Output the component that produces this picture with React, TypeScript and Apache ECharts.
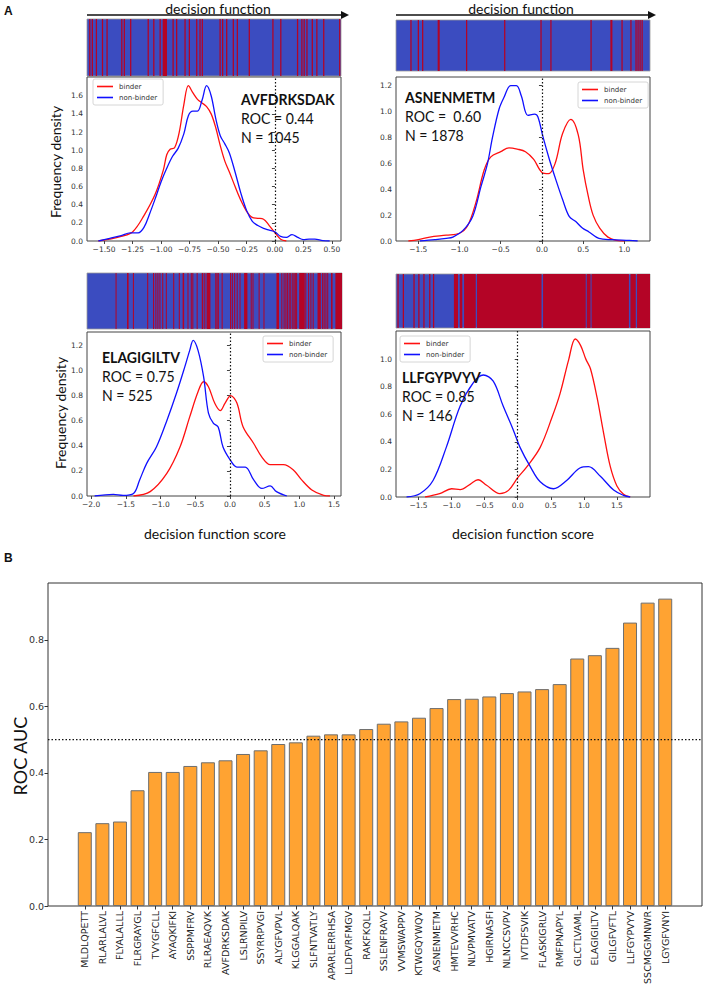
import React, { useEffect, useRef } from "react";
import * as echarts from "echarts";

// ---------- colours ----------
const STRIPE_BLUE = "#3b4cc0";
const STRIPE_RED = "#b40426";
const LINE_RED = "#ff1010";
const LINE_BLUE = "#1010ff";
const BAR_FILL = "#ffa332";

// ---------- panel A : density curves ----------
const p1Binder = [[-1.55,0],[-1.45,0.02],[-1.35,0.05],[-1.25,0.1],[-1.15,0.28],[-1.05,0.52],[-0.98,0.78],[-0.95,0.95],[-0.92,1.01],[-0.88,1.03],[-0.84,1.2],[-0.8,1.5],[-0.76,1.71],[-0.72,1.63],[-0.68,1.56],[-0.64,1.52],[-0.6,1.48],[-0.56,1.4],[-0.52,1.25],[-0.48,1.05],[-0.44,0.88],[-0.4,0.76],[-0.35,0.6],[-0.3,0.45],[-0.25,0.33],[-0.2,0.26],[-0.15,0.25],[-0.1,0.24],[-0.05,0.17],[0,0.09],[0.05,0.02],[0.1,0]];
const p1NonBinder = [[-1.55,0],[-1.45,0.03],[-1.35,0.06],[-1.27,0.09],[-1.2,0.09],[-1.15,0.15],[-1.1,0.3],[-1.05,0.47],[-1.0,0.65],[-0.95,0.8],[-0.9,0.93],[-0.85,1.02],[-0.8,1.18],[-0.76,1.38],[-0.72,1.43],[-0.68,1.43],[-0.64,1.55],[-0.6,1.71],[-0.56,1.6],[-0.52,1.35],[-0.48,1.16],[-0.44,1.07],[-0.4,0.97],[-0.35,0.76],[-0.3,0.53],[-0.25,0.34],[-0.2,0.22],[-0.15,0.17],[-0.1,0.14],[-0.05,0.12],[0,0.1],[0.05,0.05],[0.1,0.04],[0.15,0.07],[0.2,0.04],[0.25,0.015],[0.3,0.02],[0.35,0.02],[0.42,0.005],[0.48,0]];

const p2Binder = [[-1.62,0],[-1.5,0.01],[-1.36,0.03],[-1.16,0.045],[-1.0,0.06],[-0.9,0.12],[-0.8,0.3],[-0.7,0.55],[-0.62,0.65],[-0.5,0.69],[-0.4,0.72],[-0.3,0.71],[-0.2,0.69],[-0.1,0.63],[0.0,0.53],[0.08,0.52],[0.16,0.6],[0.25,0.83],[0.35,0.94],[0.44,0.82],[0.5,0.55],[0.56,0.35],[0.62,0.2],[0.7,0.1],[0.8,0.03],[0.9,0.005],[1.0,0]];
const p2NonBinder = [[-1.48,0],[-1.3,0.01],[-1.16,0.02],[-1.08,0.03],[-0.96,0.08],[-0.84,0.19],[-0.74,0.42],[-0.66,0.6],[-0.6,0.8],[-0.52,1.02],[-0.46,1.11],[-0.38,1.2],[-0.31,1.2],[-0.25,1.12],[-0.17,0.97],[-0.09,0.98],[-0.05,0.96],[0.01,0.81],[0.09,0.63],[0.17,0.47],[0.25,0.32],[0.33,0.19],[0.41,0.15],[0.49,0.1],[0.57,0.07],[0.69,0.02],[0.85,0.01],[1.06,0.005],[1.16,0]];

const p3Binder = [[-1.39,0],[-1.15,0.035],[-0.91,0.18],[-0.72,0.39],[-0.58,0.63],[-0.46,0.83],[-0.38,0.91],[-0.31,0.87],[-0.22,0.74],[-0.14,0.68],[-0.07,0.74],[0.01,0.8],[0.1,0.74],[0.19,0.55],[0.34,0.42],[0.46,0.31],[0.58,0.25],[0.77,0.25],[0.91,0.21],[1.03,0.13],[1.18,0.048],[1.35,0.005],[1.44,0]];
const p3NonBinder = [[-1.95,0],[-1.68,0.013],[-1.54,0.005],[-1.39,0.02],[-1.3,0.13],[-1.2,0.26],[-1.06,0.39],[-0.91,0.6],[-0.77,0.82],[-0.65,1.03],[-0.58,1.16],[-0.53,1.24],[-0.46,1.16],[-0.38,0.95],[-0.31,0.66],[-0.24,0.58],[-0.17,0.55],[-0.1,0.39],[0,0.29],[0.1,0.23],[0.22,0.23],[0.34,0.13],[0.46,0.06],[0.58,0.08],[0.67,0.035],[0.82,0]];

const p4Binder = [[-1.4,0],[-1.18,0.024],[-1.0,0.06],[-0.87,0.053],[-0.72,0.092],[-0.6,0.125],[-0.47,0.085],[-0.27,0.024],[-0.14,0.048],[0,0.14],[0.14,0.22],[0.34,0.36],[0.52,0.58],[0.64,0.75],[0.77,0.995],[0.87,1.146],[0.95,1.1],[1.03,1.0],[1.1,0.93],[1.2,0.72],[1.3,0.46],[1.4,0.22],[1.5,0.08],[1.6,0.02],[1.7,0]];
const p4NonBinder = [[-1.68,0],[-1.48,0.024],[-1.28,0.12],[-1.08,0.36],[-0.87,0.66],[-0.67,0.83],[-0.52,0.885],[-0.37,0.84],[-0.22,0.66],[-0.07,0.49],[0.035,0.36],[0.19,0.22],[0.34,0.11],[0.54,0.06],[0.74,0.12],[0.94,0.21],[1.07,0.22],[1.25,0.15],[1.45,0.05],[1.6,0.012],[1.7,0]];

// ---------- panel A : sorted-sample stripes (fractions of the stripe width) ----------
const stripe1Lines = [0.011,0.021,0.037,0.061,0.079,0.137,0.147,0.172,0.241,0.263,0.288,0.339,0.353,0.386,0.403,0.432,0.445,0.454,0.524,0.534,0.550,0.576,0.592,0.639,0.732,0.763,0.829,0.846,0.855,0.866,0.887,0.905,0.932,0.995];
const stripe1Bands = [[0.298,0.315]];
const stripe2Lines = [0.059,0.088,0.105,0.278,0.428,0.571,0.610,0.768,0.890,0.925,0.945,0.953,0.961,0.969];
const stripe2Bands = [[0.164,0.172],[0.844,0.852]];
const stripe3Lines = [0.114,0.182,0.238,0.261,0.270,0.278,0.286,0.297,0.311,0.340,0.362,0.396,0.409,0.415,0.432,0.462,0.530,0.563,0.570,0.579,0.589,0.600,0.644,0.651,0.675,0.694,0.764,0.773,0.780,0.786,0.793,0.799,0.858,0.869,0.878,0.887,0.924,0.930,0.937,0.944,0.505,0.510,0.515,0.807,0.812,0.817,0.822];
const stripe3Bands = [[0.157,0.163],[0.375,0.381],[0.450,0.456],[0.469,0.484],[0.616,0.629],[0.743,0.753],[0.832,0.854],[0.904,0.917],[0.957,0.963],[0.974,1.0]];
const stripe4Lines = [0.008,0.029,0.071,0.090,0.110,0.133,0.148];
const stripe4Bands = [[0.228,0.244],[0.251,0.261],[0.268,0.314],[0.319,0.573],[0.579,0.747],[0.751,0.766],[0.770,0.917],[0.923,0.944],[0.949,1.0]];

// ---------- panel A : ticks ----------
const p1XTicks = [-1.5,-1.25,-1.0,-0.75,-0.5,-0.25,0,0.25,0.5];
const p1YTicks = [0,0.2,0.4,0.6,0.8,1.0,1.2,1.4,1.6];
const p2XTicks = [-1.5,-1.0,-0.5,0,0.5,1.0];
const p2YTicks = [0,0.2,0.4,0.6,0.8,1.0,1.2];
const p3XTicks = [-2.0,-1.5,-1.0,-0.5,0,0.5,1.0,1.5];
const p3YTicks = [0,0.2,0.4,0.6,0.8,1.0,1.2];
const p4XTicks = [-1.5,-1.0,-0.5,0,0.5,1.0,1.5];
const p4YTicks = [0,0.2,0.4,0.6,0.8,1.0];

const peptideNames = ["AVFDRKSDAK","ASNENMETM","ELAGIGILTV","LLFGYPVYV"];
const rocTexts = ["ROC = 0.44","ROC =  0.60","ROC = 0.75","ROC = 0.85"];
const nTexts = ["N = 1045","N = 1878","N = 525","N = 146"];

// ---------- panel B : bar chart ----------
const barPeptides = ["MLDLQPETT","RLARLALVL","FLYALALLL","FLRGRAYGL","TVYGFCLL","AYAQKIFKI","SSPPMFRV","RLRAEAQVK","AVFDRKSDAK","LSLRNPILV","SSYRRPVGI","ALYGFVPVL","KLGGALQAK","SLFNTVATLY","APARLERRHSA","LLDFVRFMGV","RAKFKQLL","SSLENFRAYV","VVMSWAPPV","KTWGQYWQV","ASNENMETM","HMTEVVRHC","NLVPMVATV","HGIRNASFI","NLNCCSVPV","IVTDFSVIK","FLASKIGRLV","RMFPNAPYL","GLCTLVAML","ELAGIGILTV","GILGFVFTL","LLFGYPVYV","SSCMGGMNWR","LGYGFVNYI"];
const barRocAuc = [0.222,0.249,0.254,0.348,0.403,0.403,0.421,0.432,0.438,0.457,0.468,0.487,0.492,0.512,0.516,0.516,0.532,0.548,0.555,0.566,0.595,0.622,0.623,0.630,0.640,0.645,0.652,0.667,0.744,0.754,0.776,0.852,0.912,0.924];
const barYTicks = [0,0.2,0.4,0.6,0.8];
const chanceLevel = 0.5;

const fmt = (v: number, dec: number) => {
  const s = Math.abs(v).toFixed(dec);
  return v < -1e-9 ? "\u2212" + s : s;
};

function buildOption() {
  const panels = [
    { stripe: { left: 87, top: 19, width: 254, height: 57 }, dens: { left: 87, top: 77, width: 254, height: 164 },
      xMin: -1.65, xMax: 0.58, yMax: 1.806, xTicks: p1XTicks, xDec: 2, yTicks: p1YTicks,
      binder: p1Binder, non: p1NonBinder, lines: stripe1Lines, bands: stripe1Bands, lineW: 0.005,
      legend: { left: 93, top: 79 }, text: { x: 241, y: 99 } },
    { stripe: { left: 396, top: 20, width: 254, height: 51 }, dens: { left: 396, top: 77, width: 254, height: 164 },
      xMin: -1.77, xMax: 1.31, yMax: 1.267, xTicks: p2XTicks, xDec: 1, yTicks: p2YTicks,
      binder: p2Binder, non: p2NonBinder, lines: stripe2Lines, bands: stripe2Bands, lineW: 0.005,
      legend: { left: 578, top: 82 }, text: { x: 405, y: 97 } },
    { stripe: { left: 87, top: 273, width: 255, height: 56 }, dens: { left: 87, top: 332, width: 254, height: 164 },
      xMin: -2.06, xMax: 1.6, yMax: 1.306, xTicks: p3XTicks, xDec: 1, yTicks: p3YTicks,
      binder: p3Binder, non: p3NonBinder, lines: stripe3Lines, bands: stripe3Bands, lineW: 0.004,
      legend: { left: 263, top: 336 }, text: { x: 102, y: 357 } },
    { stripe: { left: 396, top: 274, width: 254, height: 54 }, dens: { left: 396, top: 331, width: 254, height: 166 },
      xMin: -1.84, xMax: 2.0, yMax: 1.204, xTicks: p4XTicks, xDec: 1, yTicks: p4YTicks,
      binder: p4Binder, non: p4NonBinder, lines: stripe4Lines, bands: stripe4Bands, lineW: 0.005,
      legend: { left: 400, top: 336 }, text: { x: 402, y: 377 } },
  ];

  const grid: any[] = [];
  const xAxis: any[] = [];
  const yAxis: any[] = [];
  const series: any[] = [];
  const legend: any[] = [];
  const graphic: any[] = [];

  const tickFont = { fontFamily: "DejaVu Sans", fontSize: 7.5, color: "#333" };

  panels.forEach((p, i) => {
    const gs = grid.length;
    grid.push({ ...p.stripe, show: true, backgroundColor: STRIPE_BLUE, borderColor: "#999", borderWidth: 0.8, containLabel: false });
    xAxis.push({ type: "value", gridIndex: gs, min: 0, max: 1, show: false });
    yAxis.push({ type: "value", gridIndex: gs, min: 0, max: 1, show: false });
    const stripeData = [
      ...p.lines.map((c) => [c - p.lineW / 2, c + p.lineW / 2]),
      ...p.bands,
    ];
    series.push({
      type: "custom",
      xAxisIndex: gs,
      yAxisIndex: gs,
      data: stripeData,
      encode: { x: [0, 1] },
      clip: true,
      silent: true,
      renderItem: (params: any, api: any) => {
        const a = api.coord([api.value(0), 1]);
        const b = api.coord([api.value(1), 0]);
        return {
          type: "rect",
          shape: { x: a[0], y: a[1], width: Math.max(b[0] - a[0], 1), height: b[1] - a[1] },
          style: { fill: STRIPE_RED },
        };
      },
    });

    const gd = grid.length;
    grid.push({ ...p.dens, show: true, backgroundColor: "#fff", borderColor: "#444", borderWidth: 1, containLabel: false });
    xAxis.push({
      type: "value", gridIndex: gd, min: p.xMin, max: p.xMax,
      axisLine: { show: false }, splitLine: { show: false },
      axisTick: { show: true, customValues: p.xTicks, length: 3, lineStyle: { color: "#444" } },
      axisLabel: { customValues: p.xTicks, formatter: (v: number) => fmt(v, p.xDec), margin: 4, ...tickFont },
    });
    yAxis.push({
      type: "value", gridIndex: gd, min: 0, max: p.yMax,
      axisLine: { show: false }, splitLine: { show: false },
      axisTick: { show: true, customValues: p.yTicks, length: 3, lineStyle: { color: "#444" } },
      axisLabel: { customValues: p.yTicks, formatter: (v: number) => fmt(v, 1), margin: 4, ...tickFont },
    });
    series.push({
      type: "line", name: "binder", xAxisIndex: gd, yAxisIndex: gd, data: p.binder,
      smooth: 0.35, showSymbol: false, symbol: "none", color: LINE_RED,
      lineStyle: { width: 1.3, color: LINE_RED }, silent: true, z: 3,
      markLine: {
        silent: true, symbol: "none", label: { show: false },
        lineStyle: { type: [1.5, 2], color: "#111", width: 1.2 },
        data: [{ xAxis: 0 }],
      },
    });
    series.push({
      type: "line", name: "non-binder", xAxisIndex: gd, yAxisIndex: gd, data: p.non,
      smooth: 0.35, showSymbol: false, symbol: "none", color: LINE_BLUE,
      lineStyle: { width: 1.3, color: LINE_BLUE }, silent: true, z: 4,
    });
    legend.push({
      data: ["binder", "non-binder"], left: p.legend.left, top: p.legend.top, orient: "vertical",
      icon: "rect", itemWidth: 16, itemHeight: 1.6, itemGap: 4, selectedMode: false,
      borderColor: "#cccccc", borderWidth: 0.8, borderRadius: 2, padding: [4, 6, 4, 4],
      backgroundColor: "#ffffff",
      textStyle: { fontFamily: "DejaVu Sans", fontSize: 7, color: "#333", padding: [0, 0, 0, 1] },
    });

    graphic.push({
      type: "text", x: p.text.x, y: p.text.y, scaleX: 0.88, z: 10,
      style: { text: peptideNames[i], font: "bold 16px Lato", fill: "#111", textAlign: "left", textVerticalAlign: "middle" },
    });
    graphic.push({
      type: "text", x: p.text.x, y: p.text.y + 19, scaleX: 0.88, z: 10,
      style: { text: rocTexts[i], font: "16px Lato", fill: "#111", textAlign: "left", textVerticalAlign: "middle" },
    });
    graphic.push({
      type: "text", x: p.text.x, y: p.text.y + 38, scaleX: 0.88, z: 10,
      style: { text: nTexts[i], font: "16px Lato", fill: "#111", textAlign: "left", textVerticalAlign: "middle" },
    });
  });

  // ---------- panel B ----------
  const gFrame = grid.length;
  grid.push({ left: 48, top: 583, width: 654, height: 323, show: true, borderColor: "#333", borderWidth: 1, containLabel: false });
  xAxis.push({ type: "value", gridIndex: gFrame, min: 0, max: 1, show: false });
  yAxis.push({
    type: "value", gridIndex: gFrame, min: 0, max: 0.971,
    axisLine: { show: false }, splitLine: { show: false },
    axisTick: { show: true, customValues: barYTicks, length: 3.5, lineStyle: { color: "#333" } },
    axisLabel: { customValues: barYTicks, formatter: (v: number) => fmt(v, 1), margin: 4, fontFamily: "DejaVu Sans", fontSize: 9.5, color: "#333" },
  });
  series.push({
    type: "line", xAxisIndex: gFrame, yAxisIndex: gFrame,
    data: [[0, chanceLevel], [1, chanceLevel]], showSymbol: false, symbol: "none", silent: true, z: 5,
    lineStyle: { type: [1.5, 2], color: "#111", width: 1.3 },
  });

  const gBar = grid.length;
  grid.push({ left: 76, top: 583, width: 598, height: 323, containLabel: false });
  xAxis.push({
    type: "category", gridIndex: gBar, data: barPeptides,
    axisLine: { show: false },
    axisTick: { show: true, alignWithLabel: true, length: 3.5, lineStyle: { color: "#333" } },
    axisLabel: { rotate: 90, interval: 0, margin: 5, fontFamily: "DejaVu Sans", fontSize: 9.5, color: "#222" },
  });
  yAxis.push({ type: "value", gridIndex: gBar, min: 0, max: 0.971, show: false });
  series.push({
    type: "bar", xAxisIndex: gBar, yAxisIndex: gBar, data: barRocAuc, barWidth: 14, silent: true,
    itemStyle: { color: BAR_FILL, borderColor: "#6e6e6e", borderWidth: 1 }, z: 2,
  });

  // ---------- annotations ----------
  const lato = (size: number, weight = "normal") => `${weight} ${size}px Lato`;
  graphic.push(
    { type: "text", x: 4, y: 11, style: { text: "A", font: "bold 12px 'Liberation Sans'", fill: "#111", textVerticalAlign: "middle" } },
    { type: "text", x: 4, y: 558, style: { text: "B", font: "bold 12px 'Liberation Sans'", fill: "#111", textVerticalAlign: "middle" } },
    { type: "text", x: 218, y: 8, style: { text: "decision function", font: lato(14), fill: "#111", textAlign: "center", textVerticalAlign: "middle" } },
    { type: "text", x: 521, y: 8, style: { text: "decision function", font: lato(14), fill: "#111", textAlign: "center", textVerticalAlign: "middle" } },
    { type: "line", shape: { x1: 87, y1: 15, x2: 342, y2: 15 }, style: { stroke: "#111", lineWidth: 1.6 } },
    { type: "polygon", shape: { points: [[341, 11], [349, 15], [341, 19]] }, style: { fill: "#111" } },
    { type: "line", shape: { x1: 396, y1: 15, x2: 649, y2: 15 }, style: { stroke: "#111", lineWidth: 1.6 } },
    { type: "polygon", shape: { points: [[648, 11], [656, 15], [648, 19]] }, style: { fill: "#111" } },
    { type: "text", x: 55, y: 162, rotation: Math.PI / 2, style: { text: "Frequency density", font: lato(14), fill: "#111", textAlign: "center", textVerticalAlign: "middle" } },
    { type: "text", x: 60, y: 413, rotation: Math.PI / 2, style: { text: "Frequency density", font: lato(14), fill: "#111", textAlign: "center", textVerticalAlign: "middle" } },
    { type: "text", x: 215, y: 533, style: { text: "decision function score", font: lato(14), fill: "#111", textAlign: "center", textVerticalAlign: "middle" } },
    { type: "text", x: 523, y: 533, style: { text: "decision function score", font: lato(14), fill: "#111", textAlign: "center", textVerticalAlign: "middle" } },
    { type: "text", x: 20, y: 756, rotation: Math.PI / 2, style: { text: "ROC AUC", font: lato(18), fill: "#111", textAlign: "center", textVerticalAlign: "middle" } },
  );

  return {
    animation: false,
    backgroundColor: "#ffffff",
    textStyle: { fontFamily: "DejaVu Sans" },
    grid, xAxis, yAxis, series, legend, graphic,
  };
}

export default function App() {
  const ref = useRef<HTMLDivElement>(null);
  useEffect(() => {
    document.body.style.margin = "0";
    const chart = echarts.init(ref.current!, null, { renderer: "svg" });
    chart.setOption(buildOption() as any);
    return () => chart.dispose();
  }, []);
  return <div ref={ref} style={{ width: 706, height: 991, background: "#fff" }} />;
}
